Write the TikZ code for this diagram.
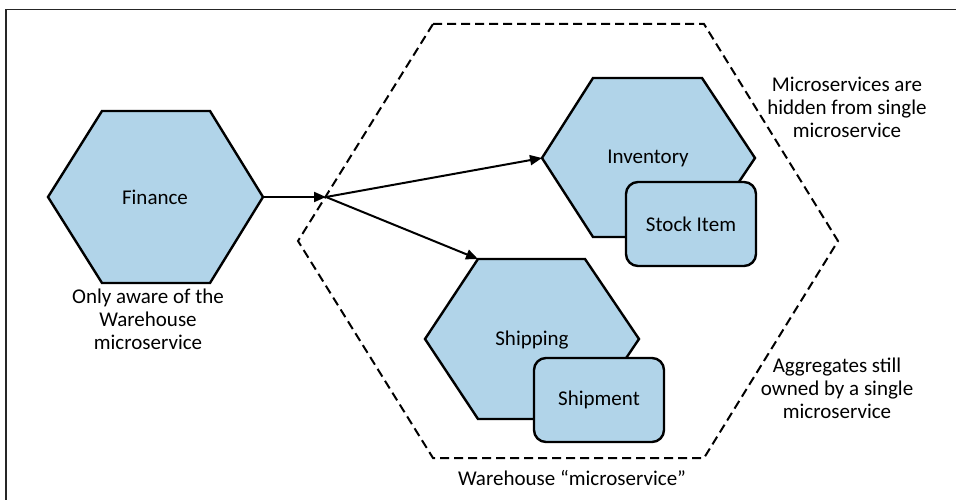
\documentclass[tikz,border=0pt]{standalone}
\usepackage{fontspec}
\setmainfont{Carlito}
\definecolor{hexblue}{RGB}{177,212,233}
\usetikzlibrary{arrows.meta,shapes,positioning}
\tikzstyle{hex}=[draw,fill=hexblue,line width=2.4pt,line join=miter]
\tikzstyle{agg}=[draw,fill=hexblue,line width=2.4pt,rounded corners=12pt,
  minimum width=130pt,minimum height=84pt]
\tikzstyle{lbl}=[font=\fontsize{21}{23}\selectfont]
\tikzstyle{note}=[lbl,align=center]
\tikzstyle{call}=[-{Triangle[length=12pt,width=10pt]}, line width=2pt]
\tikzstyle{bound}=[line width=2pt,dash pattern=on 9pt off 5pt]

\begin{document}
\begin{tikzpicture}[x=1pt, y=-1pt]
  \useasboundingbox (0,0) rectangle (956,500);
  \draw[line width=1.4pt, black!85] (6,500) -- (6,9.5) -- (956,9.5);

  % warehouse boundary
  \draw[bound] (433,24) -- (704,24) -- (838,241) -- (704,458)
    -- (433,458) -- (298,241) -- cycle;

  % services
  \draw[hex] (102,111) -- (210,111) -- (263,197) coordinate (fin-e)
    -- (210,283) -- (102,283) -- (48,197) -- cycle;
  \node[lbl] (fin) at (155,197) {Finance};

  \draw[hex] (593,78) -- (702,78) -- (755,158) -- (702,237)
    -- (593,237) -- (542,158) coordinate (inv-w) -- cycle;
  \node[lbl] (inv) at (648,158) {Inventory};
  \node[agg,lbl] (stock) at (691,224) {Stock Item};

  \draw[hex] (478,259) coordinate (ship-nw) -- (585,259) -- (639,339)
    -- (585,419) -- (478,419) -- (425,339) -- cycle;
  \node[lbl] (ship) at (532,340) {Shipping};
  \node[agg,lbl] (shipment) at (599,400) {Shipment};

  % calls
  \coordinate (hub) at (326,197);
  \draw[call] (fin-e) -- (hub);
  \draw[call] (hub) -- (inv-w);
  \draw[call] (hub) -- (ship-nw);

  % notes
  \node[note] (aware) at (148,319) {Only aware of the\\Warehouse\\microservice};
  \node[note] (hidden) at (847,107) {Microservices are\\hidden from single\\microservice};
  \node[note] (owned) at (837,388) {Aggregates still\\owned by a single\\microservice};
  \node[lbl] (wh) at (572,478) {Warehouse “microservice”};
\end{tikzpicture}
\end{document}
